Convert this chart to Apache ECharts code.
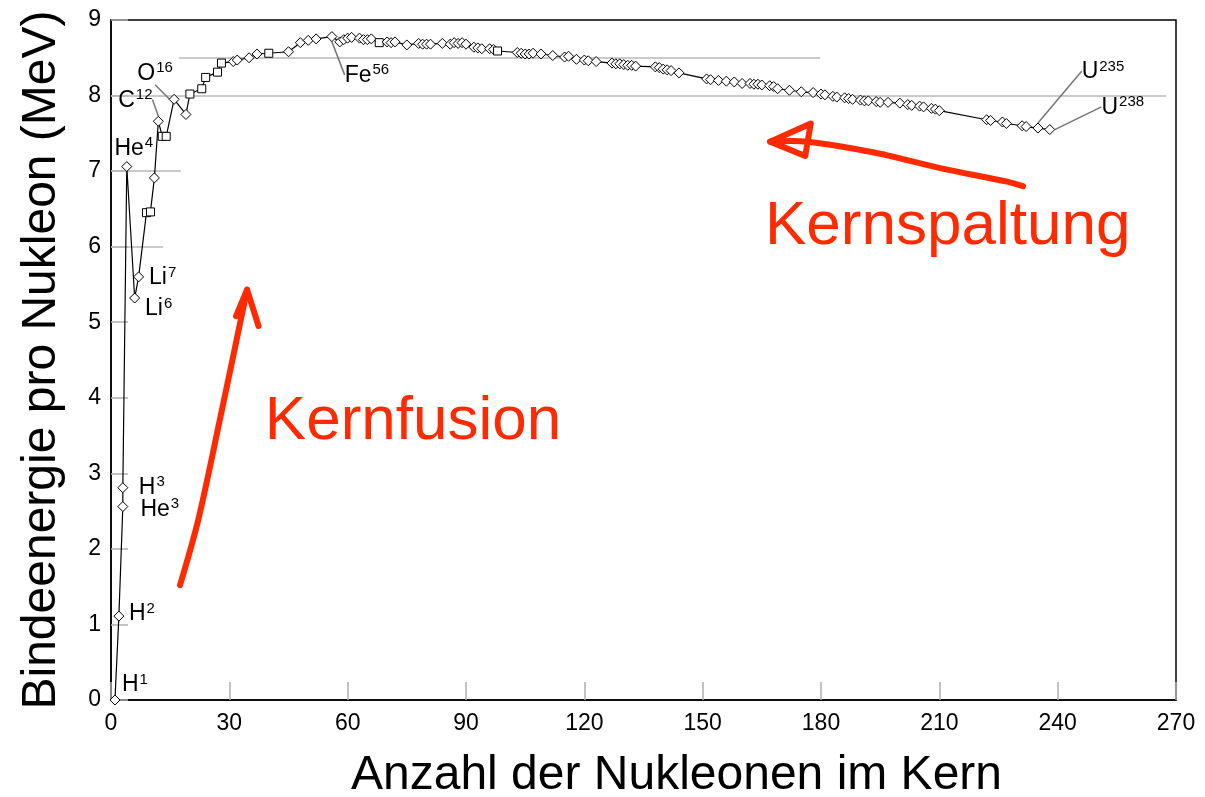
<!DOCTYPE html>
<html>
<head>
<meta charset="utf-8">
<script src="https://cdn.jsdelivr.net/npm/echarts@6/dist/echarts.min.js"></script>
<style>
html,body{margin:0;padding:0;background:#fff;}
#chart{width:1205px;height:797px;}
</style>
</head>
<body>
<div id="chart"></div>
<script>
// ---- data ----
const massNumbers = [
  1, 2, 3, 3, 4, 6, 7, 9, 10, 11, 12, 13, 14, 16, 19, 20, 23, 24, 27, 28,
  31, 32, 35, 37, 40, 45, 48, 50, 52, 56, 58, 59, 60, 61, 63, 64, 65, 66, 68, 70,
  71, 72, 75, 78, 79, 80, 81, 84, 86, 87, 88, 89, 90, 92, 93, 94, 96, 97, 98, 103,
  104, 105, 106, 107, 109, 112, 115, 116, 118, 120, 121, 123, 127, 128, 129, 130, 131, 132, 133, 138,
  139, 140, 141, 142, 144, 151, 152, 154, 156, 158, 160, 162, 163, 164, 165, 167, 168, 169, 172, 175,
  178, 180, 181, 183, 184, 186, 187, 188, 190, 191, 192, 194, 195, 197, 200, 202, 203, 205, 206, 208,
  209, 210, 222, 223, 226, 227, 231, 232, 235, 238
];
const bindingEnergy = [
  0.00, 1.11, 2.56, 2.81, 7.06, 5.32, 5.60, 6.45, 6.46, 6.91, 7.66, 7.46, 7.46, 7.95, 7.75, 8.02, 8.09, 8.24, 8.31, 8.43,
  8.45, 8.47, 8.50, 8.55, 8.56, 8.58, 8.70, 8.73, 8.75, 8.78, 8.71, 8.74, 8.76, 8.77, 8.76, 8.74, 8.74, 8.75, 8.70, 8.71,
  8.70, 8.71, 8.67, 8.69, 8.68, 8.68, 8.68, 8.69, 8.68, 8.70, 8.69, 8.70, 8.68, 8.64, 8.63, 8.62, 8.62, 8.61, 8.59, 8.57,
  8.56, 8.55, 8.55, 8.56, 8.55, 8.53, 8.51, 8.52, 8.48, 8.47, 8.46, 8.45, 8.43, 8.42, 8.42, 8.41, 8.40, 8.40, 8.39, 8.38,
  8.37, 8.35, 8.34, 8.33, 8.30, 8.22, 8.21, 8.20, 8.19, 8.18, 8.16, 8.16, 8.15, 8.15, 8.14, 8.13, 8.12, 8.09, 8.07, 8.05,
  8.04, 8.02, 8.01, 7.99, 7.98, 7.97, 7.96, 7.95, 7.94, 7.93, 7.93, 7.92, 7.91, 7.91, 7.90, 7.88, 7.87, 7.86, 7.85, 7.83,
  7.82, 7.80, 7.68, 7.67, 7.65, 7.63, 7.60, 7.59, 7.57, 7.55
];
// mass numbers drawn with square markers in the reference
const squareMassNumbers = [9, 10, 13, 14, 20, 23, 24, 27, 28, 40, 68, 98];
// labelled nuclides: [element, mass number, binding energy]
const labelledNuclides = [
  ['H', 1, 0.00], ['H', 2, 1.11], ['H', 3, 2.81], ['He', 3, 2.56], ['He', 4, 7.06],
  ['Li', 6, 5.32], ['Li', 7, 5.60], ['C', 12, 7.66], ['O', 16, 7.95], ['Fe', 56, 8.78],
  ['U', 235, 7.57], ['U', 238, 7.55]
];
const xTicks = [0, 30, 60, 90, 120, 150, 180, 210, 240, 270];
const yTicks = [0, 1, 2, 3, 4, 5, 6, 7, 8, 9];
const xTitle = 'Anzahl der Nukleonen im Kern';
const yTitle = 'Bindeenergie pro Nukleon (MeV)';
const annotFusion = 'Kernfusion';
const annotFission = 'Kernspaltung';

// ---- presentation ----
const FONT = '"Liberation Sans", Arial, sans-serif';
const RED = '#ff2a00';
// label offsets (px) relative to marker centre, and whether a leader line is drawn
const labelPlacement = {
  'H1': [20, -15, false], 'H2': [23, -2, false], 'H3': [29, 0, false], 'He3': [37, 3, false],
  'He4': [7, -18, false], 'Li6': [24, 11, false], 'Li7': [24, 1, false],
  'C12': [-23, -21, true], 'O16': [-19, -26, true], 'Fe56': [35, 39, true],
  'U235': [65, -56, true], 'U238': [73, -22, true]
};

const labelByIndex = {};
labelledNuclides.forEach(([el, a, be]) => {
  for (let i = 0; i < massNumbers.length; i++) {
    if (massNumbers[i] === a && bindingEnergy[i] === be) { labelByIndex[i] = el + a; labelByIndex[i + '_el'] = el; labelByIndex[i + '_a'] = a; break; }
  }
});

const lineData = massNumbers.map((a, i) => {
  const isSq = squareMassNumbers.indexOf(a) >= 0;
  const item = {
    value: [a, bindingEnergy[i]],
    symbol: isSq ? 'rect' : 'diamond',
    symbolSize: isSq ? 8 : 10
  };
  const key = labelByIndex[i];
  if (key) {
    const pl = labelPlacement[key];
    item.label = {
      show: true,
      position: 'inside',
      formatter: '{m|' + labelByIndex[i + '_el'] + '}{s|' + labelByIndex[i + '_a'] + '}',
      rich: {
        m: { fontSize: 23, color: '#000', fontFamily: FONT },
        s: { fontSize: 15, color: '#000', fontFamily: FONT, padding: [0, 0, 11, 1] }
      }
    };
    item.labelLine = { show: pl[2], lineStyle: { color: '#777', width: 1.5 } };
  }
  return item;
});

const chart = echarts.init(document.getElementById('chart'), null, { renderer: 'canvas' });

const option = {
  animation: false,
  backgroundColor: '#fff',
  grid: { left: 111, right: 29, top: 20, bottom: 97, show: true, borderColor: '#000', borderWidth: 1.5,
          containLabel: false, outerBoundsMode: 'none' },
  xAxis: {
    type: 'value', min: xTicks[0], max: xTicks[xTicks.length - 1], interval: 30,
    name: xTitle, nameLocation: 'middle', nameGap: 52,
    nameTextStyle: { fontSize: 48, color: '#000', fontFamily: FONT, padding: [0, 0, 0, 66] },
    axisLine: { lineStyle: { color: '#000', width: 1.5 } },
    axisTick: { inside: true, length: 18, lineStyle: { color: '#b0b0b0', width: 1.5 } },
    axisLabel: { fontSize: 23, color: '#000', fontFamily: FONT, margin: 12 },
    splitLine: { show: false }
  },
  yAxis: {
    type: 'value', min: yTicks[0], max: yTicks[yTicks.length - 1], interval: 1,
    name: yTitle, nameLocation: 'middle', nameGap: 45, nameRotate: 90,
    nameTextStyle: { fontSize: 48, color: '#000', fontFamily: FONT },
    axisLine: { lineStyle: { color: '#000', width: 1.5 } },
    axisTick: { inside: true, length: 17, lineStyle: { color: '#b0b0b0', width: 1.5 } },
    axisLabel: { fontSize: 23, color: '#000', fontFamily: FONT, margin: 10 },
    splitLine: { show: false }
  },
  series: [
    {
      type: 'line',
      data: lineData,
      lineStyle: { color: '#000', width: 1.2 },
      itemStyle: { color: '#fff', borderColor: '#000', borderWidth: 1 },
      showSymbol: true,
      showAllSymbol: true,
      emphasis: { disabled: true },
      labelLayout: function (params) {
        const key = labelByIndex[params.dataIndex];
        if (!key) return {};
        const pl = labelPlacement[key];
        return { dx: pl[0], dy: pl[1] };
      },
      z: 5,
      markLine: {
        silent: true,
        symbol: 'none',
        label: { show: false },
        lineStyle: { color: '#b8b8b8', width: 1.5, type: 'solid' },
        data: [
          [{ coord: [0, 6] }, { coord: [13.2, 6] }],
          [{ coord: [0, 7] }, { coord: [17.7, 7] }],
          [{ coord: [0, 8] }, { coord: [267.5, 8] }],
          [{ coord: [17.2, 8.5] }, { coord: [179.8, 8.5] }]
        ]
      }
    }
  ]
};
chart.setOption(option);

// ---- red hand-drawn annotations, placed in data coordinates ----
function P(x, y) { return chart.convertToPixel({ gridIndex: 0 }, [x, y]); }
const fusionArrow = [[17.5, 1.52], [22.1, 2.38], [27.6, 3.71], [34.5, 5.43]];
const fusionHead = [[31.7, 5.08], [34.5, 5.43], [37.4, 4.95]];
const fissionArrow = [[231.2, 6.80], [227.2, 6.86], [210.2, 7.04], [193.2, 7.25], [176.5, 7.39], [167.1, 7.39]];
const fissionHead = [[177.4, 7.63], [167.1, 7.39], [176.0, 7.20], [177.4, 7.63]];
const redLine = { stroke: RED, lineWidth: 6, lineCap: 'round', lineJoin: 'round', fill: null };
const fusionTextAt = P(39, 3.44);
const fissionTextAt = P(165.8, 6.02);
chart.setOption({
  graphic: [
    { type: 'polyline', shape: { points: fusionArrow.map(p => P(p[0], p[1])), smooth: 0.3 }, style: redLine, z: 20 },
    { type: 'polyline', shape: { points: fusionHead.map(p => P(p[0], p[1])) }, style: redLine, z: 20 },
    { type: 'polyline', shape: { points: fissionArrow.map(p => P(p[0], p[1])), smooth: 0.3 }, style: redLine, z: 20 },
    { type: 'polyline', shape: { points: fissionHead.map(p => P(p[0], p[1])) }, style: redLine, z: 20 },
    { type: 'text', x: fusionTextAt[0], y: fusionTextAt[1] + 13, z: 20,
      style: { text: annotFusion, fill: RED, font: '62px ' + FONT, textVerticalAlign: 'bottom', textAlign: 'left' } },
    { type: 'text', x: fissionTextAt[0], y: fissionTextAt[1] + 13, z: 20,
      style: { text: annotFission, fill: RED, font: '62px ' + FONT, textVerticalAlign: 'bottom', textAlign: 'left' } }
  ]
});
</script>
</body>
</html>
